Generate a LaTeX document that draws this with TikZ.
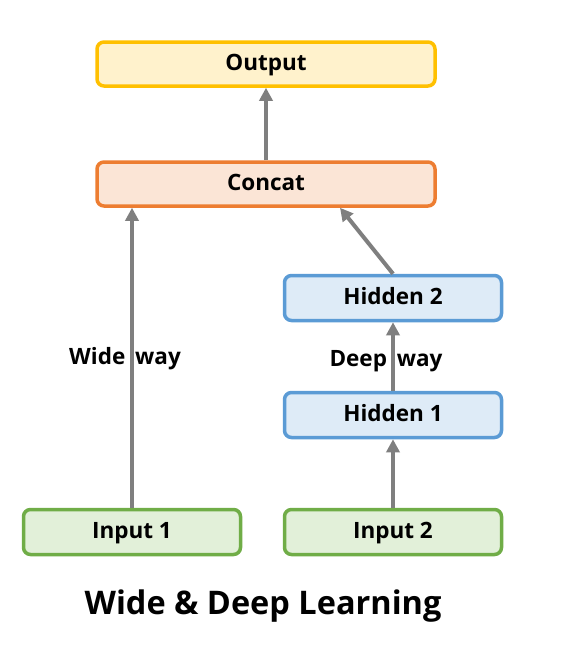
\documentclass[tikz,border=0pt]{standalone}
\usepackage{fontspec}
\setmainfont{Open Sans}
\usetikzlibrary{arrows.meta}
\definecolor{outfill}{HTML}{FFF2CC}
\definecolor{outline}{HTML}{FFC000}
\definecolor{catfill}{HTML}{FBE5D6}
\definecolor{catline}{HTML}{ED7D31}
\definecolor{hidfill}{HTML}{DEEBF7}
\definecolor{hidline}{HTML}{5B9BD5}
\definecolor{infill}{HTML}{E2F0D9}
\definecolor{inline}{HTML}{70AD47}
\definecolor{arrgray}{HTML}{7F7F7F}
\tikzset{
  box/.style={rectangle, rounded corners=7pt, line width=3.5pt, inner sep=0pt,
    font=\fontsize{22.5}{26}\selectfont\bfseries, text=black,
    text height=16pt, text depth=3pt},
  wide/.style={box, minimum width=338pt, minimum height=44pt},
  narrow/.style={box, minimum width=217pt, minimum height=45pt},
  outbox/.style={wide, draw=outline, fill=outfill},
  catbox/.style={wide, draw=catline, fill=catfill},
  hidbox/.style={narrow, draw=hidline, fill=hidfill},
  inbox/.style={narrow, draw=inline, fill=infill},
  arr/.style={draw=arrgray, line width=4pt, -{Triangle[length=13pt,width=13pt]}, color=arrgray},
  lbl/.style={font=\fontsize{22.5}{26}\selectfont\bfseries, text=black, inner sep=0pt},
  ttl/.style={font=\fontsize{32.5}{38}\selectfont\bfseries, text=black, inner sep=0pt}
}
\begin{document}
\begin{tikzpicture}[x=1pt,y=-1pt]
\useasboundingbox (0,0) rectangle (585,645);
\node[outbox] (out) at (266,64) {Output};
\node[catbox] (cat) at (266,184) {Concat};
\node[hidbox] (h2) at (393,298) {Hidden 2};
\node[hidbox] (h1) at (393,415) {Hidden 1};
\node[inbox] (in1) at (132,532) {Input 1};
\node[inbox] (in2) at (393,532) {Input 2};
\draw[arr] (cat.north) -- (out.south);
\draw[arr] (in1.north) -- (in1.north |- cat.south);
\draw[arr] (h2.north) -- ([xshift=74pt]cat.south);
\draw[arr] (h1.north) -- (h2.south);
\draw[arr] (in2.north) -- (h1.south);
\node[lbl] (wl) at (125,359) {Wide\hspace{4pt} way};
\node[lbl] (dl) at (386,361) {Deep\hspace{4pt} way};
\node[ttl] (title) at (263,606) {Wide \& Deep Learning};
\end{tikzpicture}
\end{document}
